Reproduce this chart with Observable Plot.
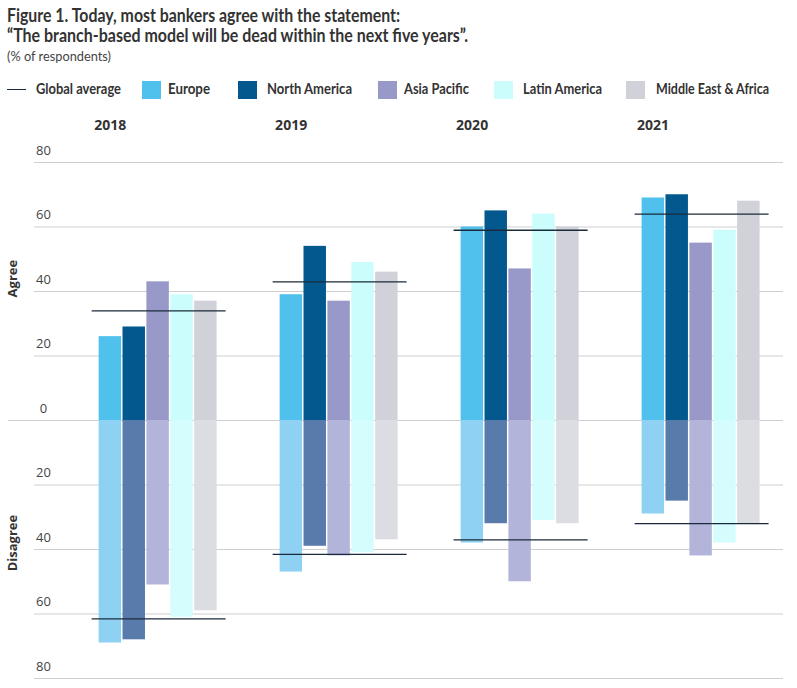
<!DOCTYPE html>
<html>
<head>
<meta charset="utf-8">
<script src="https://cdn.jsdelivr.net/npm/d3@7"></script>
<script src="https://cdn.jsdelivr.net/npm/@observablehq/plot@0.6"></script>
<style>
  body { margin: 0; background: #fff; }
  #wrap { position: relative; width: 797px; height: 688px; overflow: hidden; font-family: Lato, "Open Sans", sans-serif; color: #333; background: #fff; }
  .t { position: absolute; white-space: nowrap; transform-origin: 0 50%; }
  .sw { position: absolute; width: 19px; height: 18px; }
  .layer { position: absolute; left: 0; top: 100px; }
  .layer svg { display: block; }
</style>
</head>
<body>
<div id="wrap">
  <div class="t fit" data-w="393" style="left:7px;top:6px;font-size:18px;line-height:18px;font-weight:700;">Figure 1. Today, most bankers agree with the statement:</div>
  <div class="t fit" data-w="461" style="left:7px;top:26px;font-size:18px;line-height:18px;font-weight:700;">“The branch-based model will be dead within the next five years”.</div>
  <div class="t fit" data-w="104" style="left:7px;top:48px;font-size:14px;line-height:16px;font-weight:400;color:#444;">(% of respondents)</div>
  <div id="legend"></div>
  <div id="grid" class="layer"></div>
  <div id="chart" class="layer"></div>
</div>
<script>
// ---- data ----
const years = ["2018", "2019", "2020", "2021"];
const regions = ["Europe", "North America", "Asia Pacific", "Latin America", "Middle East & Africa"];

const europeAgree       = [26, 39, 60, 69];
const northAmericaAgree = [29, 54, 65, 70];
const asiaPacificAgree  = [43, 37, 47, 55];
const latinAmericaAgree = [39, 49, 64, 59];
const meaAgree          = [37, 46, 60, 68];

const europeDisagree       = [69, 47, 38, 29];
const northAmericaDisagree = [68, 39, 32, 25];
const asiaPacificDisagree  = [51, 42, 50, 42];
const latinAmericaDisagree = [61, 41, 31, 38];
const meaDisagree          = [59, 37, 32, 32];

const globalAgree    = [34, 43, 59, 64];
const globalDisagree = [61.5, 41.5, 37, 32];

const yTicks = [80, 60, 40, 20, 0, -20, -40, -60, -80];

// ---- styles ----
const agreeColors    = ["#50c0ed", "#03598e", "#9999c9", "#ccfdfd", "#d1d2d9"];
const disagreeColors = ["#8fd1f3", "#587bab", "#b3b4da", "#d5fdfd", "#dcdde2"];
const avgColor = "#1b2a3a";
const gridColor = "#cfcfcf";

// ---- build tables ----
const agreeSeries = [europeAgree, northAmericaAgree, asiaPacificAgree, latinAmericaAgree, meaAgree];
const disagreeSeries = [europeDisagree, northAmericaDisagree, asiaPacificDisagree, latinAmericaDisagree, meaDisagree];
const rows = [];
years.forEach((year, i) => {
  regions.forEach((region, r) => {
    rows.push({
      year, region,
      agree: agreeSeries[r][i],
      disagree: -disagreeSeries[r][i],
      agreeFill: agreeColors[r],
      disagreeFill: disagreeColors[r]
    });
  });
});
const globalRows = years.map((year, i) => ({year, agree: globalAgree[i], disagree: -globalDisagree[i]}));

// ---- legend (HTML, above the SVG) ----
const legend = document.getElementById("legend");
const legendLayout = [ // [swatch left, text left, text width]
  [142, 168, 42], [238, 267, 85], [378, 404, 65], [494, 523, 79], [626, 656, 113]
];
{
  const line = document.createElement("div");
  line.style.cssText = `position:absolute;left:7px;top:89px;width:19px;height:1.3px;background:${avgColor};`;
  legend.appendChild(line);
  const lt = document.createElement("div");
  lt.className = "t fit";
  lt.dataset.w = 85;
  lt.style.cssText = "left:36px;top:79px;font-size:15px;line-height:18px;font-weight:700;";
  lt.textContent = "Global average";
  legend.appendChild(lt);
}
regions.forEach((region, r) => {
  const [sx, tx, tw] = legendLayout[r];
  const sw = document.createElement("div");
  sw.className = "sw";
  sw.style.left = sx + "px";
  sw.style.top = "81px";
  sw.style.background = agreeColors[r];
  legend.appendChild(sw);
  const t = document.createElement("div");
  t.className = "t fit";
  t.dataset.w = tw;
  t.style.cssText = `left:${tx}px;top:79px;font-size:15px;line-height:18px;font-weight:700;`;
  t.textContent = region;
  legend.appendChild(t);
});

// fit condensed text widths
document.querySelectorAll(".fit").forEach(el => {
  const w = el.getBoundingClientRect().width;
  const target = +el.dataset.w;
  if (w > 0) el.style.transform = `scaleX(${target / w})`;
});

// ---- shared frame ----
const frame = {width: 797, height: 588, marginTop: 62, marginBottom: 10, marginLeft: 34, marginRight: 14};

// background layer: continuous gridlines, y tick labels, Agree/Disagree
const grid = Plot.plot({
  ...frame,
  x: {axis: null},
  y: {domain: [-80, 80], axis: null},
  style: {fontFamily: "'Open Sans', sans-serif", background: "white", overflow: "visible"},
  marks: [
    Plot.ruleY(yTicks.filter(d => d !== 0), {y: d => d, stroke: gridColor, strokeWidth: 1.2}),
    Plot.ruleY([0], {y: d => d, stroke: gridColor, strokeWidth: 1.2, insetLeft: -26}),
    Plot.text(yTicks, {y: d => d, text: d => String(Math.abs(d)), frameAnchor: "left", dx: 9, dy: -12, textAnchor: "middle", fontSize: 13, fill: "#444"}),
    Plot.text([{label: "Agree", v: 44}, {label: "Disagree", v: -38}], {y: "v", text: "label", rotate: -90, frameAnchor: "left", dx: -22, textAnchor: "middle", fontSize: 13, fontWeight: "bold", fill: "#333"})
  ]
});
document.getElementById("grid").appendChild(grid);

// foreground layer: faceted bars and global averages
const chart = Plot.plot({
  ...frame,
  fx: {domain: years, paddingInner: 0.2597, paddingOuter: 0.199, align: 0.8, round: false, axis: null},
  x: {domain: regions, paddingInner: 0.06, paddingOuter: 0, insetLeft: 7, insetRight: 9, round: false, axis: null},
  y: {domain: [-80, 80], axis: null},
  color: {type: "identity"},
  style: {fontFamily: "'Open Sans', sans-serif", background: "transparent", overflow: "visible"},
  marks: [
    Plot.text(years, {fx: d => d, text: d => d, frameAnchor: "top-left", textAnchor: "start", lineAnchor: "bottom", dx: 2, dy: -33, fontSize: 14, fontWeight: "bold", fill: "#333"}),
    Plot.barY(rows, {fx: "year", x: "region", y1: 0, y2: "agree", fill: "agreeFill"}),
    Plot.barY(rows, {fx: "year", x: "region", y1: 0, y2: "disagree", fill: "disagreeFill"}),
    Plot.ruleY(globalRows, {fx: "year", y: "agree", stroke: avgColor, strokeWidth: 1.3}),
    Plot.ruleY(globalRows, {fx: "year", y: "disagree", stroke: avgColor, strokeWidth: 1.3})
  ]
});
document.getElementById("chart").appendChild(chart);
</script>
</body>
</html>
